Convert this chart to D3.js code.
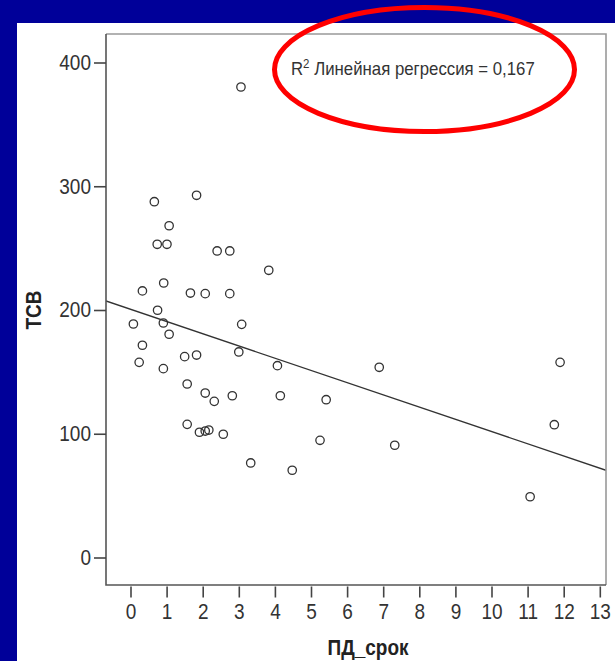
<!DOCTYPE html>
<html>
<head>
<meta charset="utf-8">
<script src="https://cdn.jsdelivr.net/npm/d3@7"></script>
<style>
  html, body { margin: 0; padding: 0; background: #000099; }
  svg { display: block; }
</style>
</head>
<body>
<svg id="chart" width="615" height="661"></svg>
<script>
// Observations: ПД_срок (x) and ТСВ (y)
const pdSrok = [
  3.06, 0.66, 1.83, 1.07, 0.74, 1.01, 2.40, 2.75, 3.83, 0.92,
  0.33, 1.66, 2.07, 2.75, 0.75, 0.08, 0.91, 3.08, 1.07, 0.33,
  0.24, 0.91, 1.50, 1.83, 3.00, 4.07, 6.89, 11.90, 1.57, 2.07,
  2.82, 2.32, 4.15, 5.42, 1.57, 1.91, 2.07, 2.17, 2.57, 5.25,
  7.32, 11.74, 3.33, 4.48, 11.07
];
const tsv = [
  380.2, 287.5, 292.7, 268.1, 253.1, 253.1, 247.7, 247.7, 232.1, 221.8,
  215.4, 213.7, 213.2, 213.2, 199.8, 188.7, 189.5, 188.4, 180.4, 171.5,
  157.7, 152.6, 162.3, 163.6, 166.1, 155.0, 153.7, 157.7, 140.2, 132.9,
  130.7, 126.2, 130.7, 127.5, 107.6, 101.2, 102.2, 103.0, 99.6, 94.7,
  90.7, 107.3, 76.4, 70.5, 49.1
];

// Linear fit: ТСВ = intercept + slope * ПД_срок
const fitIntercept = 200.6;
const fitSlope = -9.88;
const rSquared = "0,167";

const xTicks = [0, 1, 2, 3, 4, 5, 6, 7, 8, 9, 10, 11, 12, 13];
const yTicks = [0, 100, 200, 300, 400];
const xTitle = "ПД_срок";
const yTitle = "ТСВ";

const svg = d3.select("#chart");
const font = "'Liberation Sans', Arial, sans-serif";
const tall = 1.14; // glyph height stretch used for all chart text

// white slide panel
svg.append("rect")
  .attr("x", 17).attr("y", 23)
  .attr("width", 615 - 17).attr("height", 661 - 23)
  .attr("fill", "#ffffff");

// plot frame bounds
const frame = { left: 106, right: 606, top: 34, bottom: 585 };

const x = d3.scaleLinear().domain([0, 13]).range([130.5, 599.8]);
const y = d3.scaleLinear().domain([0, 400]).range([557.5, 62.5]);

const plot = svg.append("g");

// clip to frame
svg.append("defs").append("clipPath").attr("id", "frameClip")
  .append("rect")
  .attr("x", frame.left).attr("y", frame.top)
  .attr("width", frame.right - frame.left)
  .attr("height", frame.bottom - frame.top);

// regression line across the frame width
const xMin = x.invert(frame.left), xMax = x.invert(frame.right);
plot.append("line")
  .attr("clip-path", "url(#frameClip)")
  .attr("x1", x(xMin)).attr("y1", y(fitIntercept + fitSlope * xMin))
  .attr("x2", x(xMax)).attr("y2", y(fitIntercept + fitSlope * xMax))
  .attr("stroke", "#333").attr("stroke-width", 1.3);

// points
plot.selectAll("circle.pt")
  .data(pdSrok.map((v, i) => [v, tsv[i]]))
  .join("circle")
  .attr("class", "pt")
  .attr("cx", d => x(d[0]))
  .attr("cy", d => y(d[1]))
  .attr("r", 4.2)
  .attr("fill", "none")
  .attr("stroke", "#333")
  .attr("stroke-width", 1.3);

// frame: light top/right, darker axis sides
plot.append("path")
  .attr("d", `M${frame.left},${frame.top}H${frame.right}V${frame.bottom}`)
  .attr("fill", "none").attr("stroke", "#999").attr("stroke-width", 1.6);
plot.append("path")
  .attr("d", `M${frame.left},${frame.top}V${frame.bottom}H${frame.right}`)
  .attr("fill", "none").attr("stroke", "#555").attr("stroke-width", 1.6);

// y axis
const yAxis = svg.append("g")
  .attr("transform", `translate(${frame.left},0)`)
  .call(d3.axisLeft(y).tickValues(yTicks).tickSize(12).tickPadding(3));
yAxis.select(".domain").remove();
yAxis.selectAll(".tick line").attr("stroke", "#444").attr("stroke-width", 1.6);
yAxis.selectAll(".tick text")
  .attr("fill", "#333").attr("transform", `scale(1,${tall})`)
  .style("font-family", font).style("font-size", "19px");

// x axis
const xAxis = svg.append("g")
  .attr("transform", `translate(0,${frame.bottom + 1.5})`)
  .call(d3.axisBottom(x).tickValues(xTicks).tickSize(11).tickPadding(4));
xAxis.select(".domain").remove();
xAxis.selectAll(".tick line").attr("stroke", "#444").attr("stroke-width", 1.6);
xAxis.selectAll(".tick text")
  .attr("fill", "#333").attr("transform", `scale(1,${tall})`)
  .style("font-family", font).style("font-size", "19px");

// axis titles
svg.append("text")
  .attr("transform", `translate(${(frame.left + frame.right) / 2 + 12},655) scale(1,${tall})`)
  .attr("text-anchor", "middle")
  .style("font-family", font).style("font-size", "19px").style("font-weight", "bold")
  .attr("fill", "#222")
  .text(xTitle);

svg.append("text")
  .attr("transform", `translate(41,310) rotate(-90) scale(1,${tall})`)
  .attr("text-anchor", "middle")
  .style("font-family", font).style("font-size", "19px").style("font-weight", "bold")
  .attr("fill", "#222")
  .text(yTitle);

// fit annotation
const ann = svg.append("text")
  .attr("transform", `translate(291,75) scale(1,${tall})`)
  .style("font-family", font).style("font-size", "16.8px")
  .attr("fill", "#333");
ann.append("tspan").text("R");
ann.append("tspan").attr("dy", -6).style("font-size", "11.5px").text("2");
ann.append("tspan").attr("dy", 6).text(" Линейная регрессия = " + rSquared);

// red highlight ellipse
svg.append("ellipse")
  .attr("cx", 424.5).attr("cy", 69.5)
  .attr("rx", 150).attr("ry", 62)
  .attr("fill", "none")
  .attr("stroke", "#ff0000").attr("stroke-width", 5);
</script>
</body>
</html>
